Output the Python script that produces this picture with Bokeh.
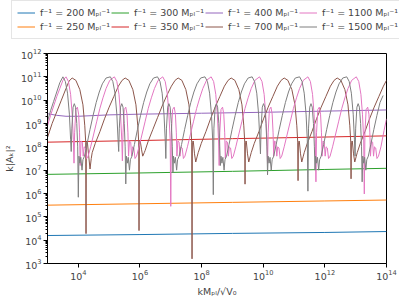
import numpy as np
from bokeh.plotting import figure
from bokeh.layouts import column
from bokeh.models import Legend, LegendItem, FixedTicker
from bokeh.embed import file_html
from bokeh.resources import INLINE

# ---------------- data (log10 values) ----------------
inv_f = ["200", "250", "300", "350", "400", "700", "1100", "1500"]
colors = ["#1f77b4", "#ff7f0e", "#2ca02c", "#d62728", "#9467bd",
          "#8c564b", "#e377c2", "#7f7f7f"]

flat_logk = [3.0, 6.0, 9.0, 12.0, 14.0]
f200_logy = [4.20, 4.24, 4.29, 4.33, 4.37]
f250_logy = [5.50, 5.56, 5.62, 5.68, 5.72]
f300_logy = [6.82, 6.88, 6.95, 7.03, 7.08]
f350_logy = [8.20, 8.27, 8.35, 8.42, 8.47]

f400_logk = [3.0, 3.3, 3.6, 4.0, 4.5, 5.0, 6.0, 8.0, 10.0, 12.0, 14.0]
f400_logy = [9.42, 9.35, 9.31, 9.31, 9.34, 9.37, 9.40, 9.44, 9.48, 9.53, 9.58]

f700_logk = [3.0, 3.15, 3.3, 3.45, 3.6, 3.7,
             3.8, 3.92, 4.05, 4.15, 4.21, 4.24, 4.25, 4.26, 4.29, 4.33, 4.38, 4.42, 4.45, 4.55, 4.7, 4.85, 5.0, 5.15, 5.3, 5.42,
             5.52, 5.64, 5.77, 5.87, 5.93, 5.96, 5.97, 5.98, 6.01, 6.05, 6.09, 6.14, 6.17, 6.27, 6.42, 6.57, 6.72, 6.87, 7.02, 7.14,
             7.24, 7.36, 7.49, 7.59, 7.65, 7.68, 7.69, 7.70, 7.73, 7.77, 7.81, 7.86, 7.89, 7.99, 8.14, 8.29, 8.44, 8.59, 8.74, 8.86,
             8.96, 9.08, 9.21, 9.31, 9.37, 9.40, 9.41, 9.42, 9.45, 9.49, 9.53, 9.58, 9.61, 9.71, 9.86, 10.01, 10.16, 10.31, 10.46, 10.58,
             10.68, 10.80, 10.93, 11.03, 11.09, 11.12, 11.13, 11.14, 11.17, 11.21, 11.25, 11.30, 11.33, 11.43, 11.58, 11.73, 11.88, 12.03, 12.18, 12.30,
             12.40, 12.52, 12.65, 12.75, 12.81, 12.84, 12.85, 12.86, 12.89, 12.93, 12.97, 13.02, 13.05, 13.15, 13.30, 13.45, 13.60, 13.75, 13.90, 14.0]
f700_logy = [8.4, 9.0, 9.5, 10.0, 10.5, 10.82,
             10.95, 10.85, 10.45, 9.8, 8.9, 8.2, 4.28, 8.2, 8.25, 7.7, 7.05, 7.5, 7.75, 8.15, 8.65, 9.2, 9.7, 10.15, 10.6, 10.85,
             10.95, 10.85, 10.45, 9.8, 8.9, 8.2, 4.41, 8.2, 8.25, 7.9, 7.6, 7.75, 7.85, 8.25, 8.75, 9.25, 9.75, 10.2, 10.6, 10.85,
             10.95, 10.85, 10.45, 9.8, 8.9, 8.2, 3.2, 8.2, 8.25, 7.7, 7.35, 7.6, 7.75, 8.15, 8.65, 9.2, 9.7, 10.15, 10.6, 10.85,
             10.95, 10.85, 10.45, 9.8, 8.9, 8.2, 6.4, 8.2, 8.25, 7.7, 7.35, 7.6, 7.75, 8.15, 8.65, 9.2, 9.7, 10.15, 10.6, 10.85,
             10.95, 10.85, 10.45, 9.8, 8.9, 8.2, 6.55, 8.2, 8.25, 7.7, 7.35, 7.6, 7.75, 8.15, 8.65, 9.2, 9.7, 10.15, 10.6, 10.85,
             10.95, 10.85, 10.45, 9.8, 8.9, 8.2, 6.63, 8.2, 8.25, 7.7, 7.35, 7.6, 7.75, 8.15, 8.65, 9.2, 9.7, 10.15, 10.6, 10.85]

f1100_logk = [3.0, 3.1, 3.2, 3.3, 3.4, 3.5,
              3.6, 3.68, 3.75, 3.8, 3.84, 3.86, 3.88, 3.92, 3.97, 4.01, 4.04, 4.06, 4.09, 4.13, 4.16, 4.19, 4.23, 4.27, 4.32, 4.4, 4.5, 4.6, 4.7, 4.8, 4.9, 5.02,
              5.17, 5.25, 5.32, 5.37, 5.41, 5.43, 5.45, 5.49, 5.54, 5.58, 5.61, 5.63, 5.66, 5.70, 5.73, 5.76, 5.80, 5.84, 5.89, 5.97, 6.07, 6.17, 6.27, 6.37, 6.47, 6.59,
              6.74, 6.82, 6.89, 6.94, 6.98, 7.00, 7.02, 7.06, 7.11, 7.15, 7.18, 7.20, 7.23, 7.27, 7.30, 7.33, 7.37, 7.41, 7.46, 7.54, 7.64, 7.74, 7.84, 7.94, 8.04, 8.16,
              8.31, 8.39, 8.46, 8.51, 8.55, 8.57, 8.59, 8.63, 8.68, 8.72, 8.75, 8.77, 8.80, 8.84, 8.87, 8.90, 8.94, 8.98, 9.03, 9.11, 9.21, 9.31, 9.41, 9.51, 9.61, 9.73,
              9.88, 9.96, 10.03, 10.08, 10.12, 10.14, 10.16, 10.20, 10.25, 10.29, 10.32, 10.34, 10.37, 10.41, 10.44, 10.47, 10.51, 10.55, 10.60, 10.68, 10.78, 10.88, 10.98, 11.08, 11.18, 11.30,
              11.45, 11.53, 11.60, 11.65, 11.69, 11.71, 11.73, 11.77, 11.82, 11.86, 11.89, 11.91, 11.94, 11.98, 12.01, 12.04, 12.08, 12.12, 12.17, 12.25, 12.35, 12.45, 12.55, 12.65, 12.75, 12.87,
              13.02, 13.10, 13.17, 13.22, 13.26, 13.28, 13.30, 13.34, 13.39, 13.43, 13.46, 13.48, 13.51, 13.55, 13.58, 13.61, 13.65, 13.69, 13.74, 13.82, 13.92, 14.0]
f1100_logy = [8.9, 9.35, 9.75, 10.15, 10.5, 10.85,
              11.0, 10.8, 10.25, 9.4, 8.3, 7.3, 8.6, 9.6, 9.7, 9.4, 8.6, 7.2, 8.25, 8.2, 7.6, 8.0, 7.95, 7.5, 7.6, 8.0, 8.55, 9.1, 9.65, 10.1, 10.5, 10.85,
              11.0, 10.8, 10.25, 9.4, 8.3, 7.4, 8.6, 9.6, 9.7, 9.4, 8.6, 7.6, 8.25, 8.2, 7.6, 8.0, 7.95, 7.5, 7.6, 8.0, 8.55, 9.1, 9.65, 10.1, 10.5, 10.85,
              11.0, 10.8, 10.25, 9.4, 8.3, 5.45, 8.6, 9.6, 9.7, 9.4, 8.6, 7.6, 8.25, 8.2, 7.6, 8.0, 7.95, 7.5, 7.6, 8.0, 8.55, 9.1, 9.65, 10.1, 10.5, 10.85,
              11.0, 10.8, 10.25, 9.4, 8.3, 7.2, 8.6, 9.6, 9.7, 9.4, 8.6, 7.5, 8.25, 8.2, 7.6, 8.0, 7.95, 7.5, 7.6, 8.0, 8.55, 9.1, 9.65, 10.1, 10.5, 10.85,
              11.0, 10.8, 10.25, 9.4, 8.3, 7.3, 8.6, 9.6, 9.7, 9.4, 8.6, 7.6, 8.25, 8.2, 7.6, 8.0, 7.95, 7.5, 7.6, 8.0, 8.55, 9.1, 9.65, 10.1, 10.5, 10.85,
              11.0, 10.8, 10.25, 9.4, 8.3, 6.5, 8.6, 9.6, 9.7, 9.4, 8.6, 7.6, 8.25, 8.2, 7.6, 8.0, 7.95, 7.5, 7.6, 8.0, 8.55, 9.1, 9.65, 10.1, 10.5, 10.85,
              11.0, 10.8, 10.25, 9.4, 8.3, 5.98, 8.6, 9.6, 9.7, 9.4, 8.6, 7.6, 8.25, 8.2, 7.6, 8.0, 7.95, 7.5, 7.6, 8.0, 8.7, 9.2]

f1500_logk = [3.0, 3.1, 3.2, 3.3, 3.4,
              3.5, 3.58, 3.65, 3.71, 3.75, 3.77, 3.79, 3.83, 3.87, 3.91, 3.95, 3.98, 4.0, 4.02, 4.05, 4.08, 4.12, 4.15, 4.2, 4.28, 4.38, 4.48, 4.58, 4.68, 4.78, 4.9,
              5.04, 5.12, 5.19, 5.25, 5.29, 5.31, 5.33, 5.37, 5.41, 5.45, 5.49, 5.52, 5.54, 5.56, 5.59, 5.62, 5.66, 5.69, 5.74, 5.82, 5.92, 6.02, 6.12, 6.22, 6.32, 6.44,
              6.57, 6.65, 6.72, 6.78, 6.82, 6.84, 6.86, 6.90, 6.94, 6.98, 7.02, 7.05, 7.07, 7.09, 7.12, 7.15, 7.19, 7.22, 7.27, 7.35, 7.45, 7.55, 7.65, 7.75, 7.85, 7.97,
              8.11, 8.19, 8.26, 8.32, 8.36, 8.38, 8.40, 8.44, 8.48, 8.52, 8.56, 8.59, 8.61, 8.63, 8.66, 8.69, 8.73, 8.76, 8.81, 8.89, 8.99, 9.09, 9.19, 9.29, 9.39, 9.51,
              9.64, 9.72, 9.79, 9.85, 9.89, 9.91, 9.93, 9.97, 10.01, 10.05, 10.09, 10.12, 10.14, 10.16, 10.19, 10.22, 10.26, 10.29, 10.34, 10.42, 10.52, 10.62, 10.72, 10.82, 10.92, 11.04,
              11.18, 11.26, 11.33, 11.39, 11.43, 11.45, 11.47, 11.51, 11.55, 11.59, 11.63, 11.66, 11.68, 11.70, 11.73, 11.76, 11.80, 11.83, 11.88, 11.96, 12.06, 12.16, 12.26, 12.36, 12.46, 12.58,
              12.71, 12.79, 12.86, 12.92, 12.96, 12.98, 13.00, 13.04, 13.08, 13.12, 13.16, 13.19, 13.21, 13.23, 13.26, 13.29, 13.33, 13.36, 13.41, 13.49, 13.59, 13.69, 13.79, 13.89, 14.0]
f1500_logy = [9.1, 9.55, 9.95, 10.35, 10.75,
              11.0, 10.8, 10.3, 9.4, 8.3, 7.8, 8.8, 9.7, 9.85, 9.7, 9.0, 8.0, 5.84, 7.6, 7.3, 7.55, 7.0, 7.45, 7.6, 8.1, 8.75, 9.35, 9.9, 10.35, 10.7, 10.95,
              11.0, 10.8, 10.3, 9.4, 8.3, 7.8, 8.8, 9.7, 9.85, 9.7, 9.0, 8.0, 6.41, 7.6, 7.3, 7.55, 7.0, 7.45, 7.6, 8.1, 8.75, 9.35, 9.9, 10.35, 10.7, 10.95,
              11.0, 10.8, 10.3, 9.4, 8.3, 7.5, 8.8, 9.7, 9.85, 9.7, 9.0, 8.0, 6.9, 7.6, 7.3, 7.55, 7.0, 7.45, 7.6, 8.1, 8.75, 9.35, 9.9, 10.35, 10.7, 10.95,
              11.0, 10.8, 10.3, 9.4, 8.3, 5.95, 8.8, 9.7, 9.85, 9.7, 9.0, 8.0, 7.2, 7.6, 7.3, 7.55, 7.0, 7.45, 7.6, 8.1, 8.75, 9.35, 9.9, 10.35, 10.7, 10.95,
              11.0, 10.8, 10.3, 9.4, 8.3, 7.7, 8.8, 9.7, 9.85, 9.7, 9.0, 8.0, 6.8, 7.6, 7.3, 7.55, 7.0, 7.45, 7.6, 8.1, 8.75, 9.35, 9.9, 10.35, 10.7, 10.95,
              11.0, 10.8, 10.3, 9.4, 8.3, 6.1, 8.8, 9.7, 9.85, 9.7, 9.0, 8.0, 7.0, 7.6, 7.3, 7.55, 7.0, 7.45, 7.6, 8.1, 8.75, 9.35, 9.9, 10.35, 10.7, 10.95,
              11.0, 10.8, 10.3, 9.4, 8.3, 7.6, 8.8, 9.7, 9.85, 9.7, 9.0, 8.0, 6.5, 7.6, 7.3, 7.55, 7.0, 7.45, 7.6, 8.1, 8.75, 9.35, 9.9, 10.2]

x_tick_exp = [4, 6, 8, 10, 12, 14]
y_tick_exp = [3, 4, 5, 6, 7, 8, 9, 10, 11, 12]

series_logk = [flat_logk, flat_logk, flat_logk, flat_logk, f400_logk,
               f700_logk, f1100_logk, f1500_logk]
series_logy = [f200_logy, f250_logy, f300_logy, f350_logy, f400_logy,
               f700_logy, f1100_logy, f1500_logy]

# ---------------- legend strip (separate small figure above) ----------------
leg_h = 45
lf = figure(width=399, height=leg_h, x_range=(0, 1), y_range=(0, 1),
            x_axis_location=None, y_axis_location=None,
            output_backend="svg", toolbar_location=None,
            min_border_left=0, min_border_right=0,
            min_border_top=0, min_border_bottom=0)
lf.frame_align = False
lf.grid.visible = False
lf.outline_line_color = None
lf.title.visible = False

label_txt = {lab: "f\u207b\u00b9 = %s M\u209a\u2097\u207b\u00b9" % lab for lab in inv_f}
leg_r = {}
for c, lab in zip(colors, inv_f):
    # legend-only handle, kept outside the strip's visible range
    leg_r[lab] = lf.line([0.0, 1.0], [-5.0, -5.0], line_color=c, line_width=1)
order = ["200", "300", "400", "1100", "250", "350", "700", "1500"]
items = [LegendItem(label=label_txt[k], renderers=[leg_r[k]]) for k in order]
legend = Legend(items=items, orientation="horizontal", nrows=2,
                location=(11, 6), label_text_font="DejaVu Sans",
                label_text_font_size="9.5px", glyph_width=18, glyph_height=13,
                label_height=13, label_standoff=5, spacing=1, padding=5,
                margin=0, border_line_color="#cccccc", border_line_width=1,
                background_fill_alpha=0.85)
lf.add_layout(legend, "center")

# ---------------- main figure ----------------
p = figure(width=399, height=299 - leg_h, x_axis_type="log", y_axis_type="log",
           x_range=(1e3, 1e14), y_range=(1e3, 1e12),
           output_backend="svg", toolbar_location=None,
           min_border_left=43, min_border_right=13,
           min_border_top=53 - leg_h, min_border_bottom=36)
p.frame_align = False
p.title.visible = False
p.grid.visible = False
p.outline_line_color = "black"
p.outline_line_width = 1

for lk, ly, c in zip(series_logk, series_logy, colors):
    p.line(10 ** np.array(lk), 10 ** np.array(ly), line_color=c, line_width=1)

xt = [10.0 ** e for e in x_tick_exp]
yt = [10.0 ** e for e in y_tick_exp]
y_minor = [m * 10.0 ** e for e in y_tick_exp[:-1] for m in range(2, 10)]
p.xaxis.ticker = FixedTicker(ticks=xt, minor_ticks=[])
p.yaxis.ticker = FixedTicker(ticks=yt, minor_ticks=y_minor)

for ax in (p.xaxis[0], p.yaxis[0]):
    ax.major_tick_out = 4
    ax.major_tick_in = 0
    ax.minor_tick_out = 2
    ax.minor_tick_in = 0
    ax.major_label_text_font = "DejaVu Sans"
    ax.major_label_text_font_size = "9.5px"
    ax.major_label_standoff = 2
    ax.axis_label_text_font = "DejaVu Sans"
    ax.axis_label_text_font_size = "9.5px"
    ax.axis_label_text_font_style = "normal"
    ax.axis_label_standoff = 3
    ax.axis_line_color = "black"
    ax.major_tick_line_color = "black"
    ax.minor_tick_line_color = "black"

p.xaxis.axis_label = "kM\u209a\u2097/\u221aV\u2080"
p.yaxis.axis_label = "k|A\u2096|\u00b2"

layout = column(lf, p, spacing=0)
open("out.html", "w").write(file_html(layout, INLINE))
